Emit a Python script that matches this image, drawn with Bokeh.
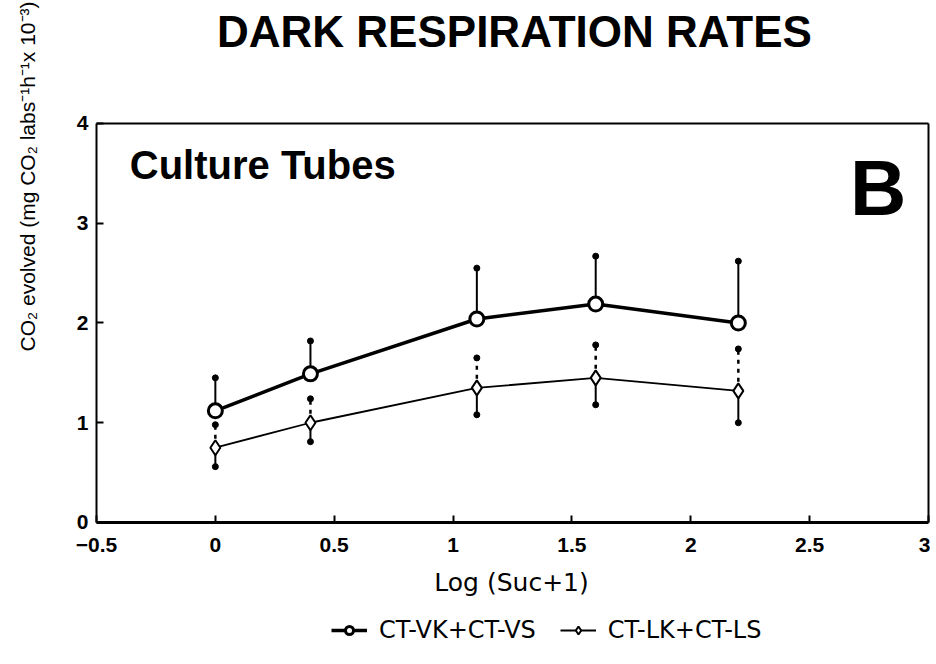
from bokeh.plotting import figure
from bokeh.models import Label, Legend, LegendItem, FixedTicker, Range1d, LinearAxis
from bokeh.embed import file_html
from bokeh.resources import INLINE
import math

# ---- data ----
x_vals = [0.0, 0.4, 1.1, 1.6, 2.2]
vk_mean = [1.12, 1.49, 2.04, 2.19, 2.00]
vk_upper = [1.45, 1.82, 2.55, 2.67, 2.62]
lk_mean = [0.75, 1.00, 1.35, 1.45, 1.32]
lk_lower = [0.56, 0.81, 1.08, 1.18, 1.00]
lk_upper = [0.98, 1.24, 1.65, 1.78, 1.74]
x_ticks = [-0.5, 0, 0.5, 1, 1.5, 2, 2.5, 3]
y_ticks = [0, 1, 2, 3, 4]
series_names = ["CT-VK+CT-VS", "CT-LK+CT-LS"]

FONT = "Liberation Sans"
X0, X1 = -0.5, 3.0
Y0, Y1 = 0.0, 4.0

# the frame covers the whole canvas; axes are drawn at fixed data locations
p = figure(width=930, height=656, output_backend="svg", toolbar_location=None,
           x_range=Range1d(-0.90385, 3.00841), y_range=Range1d(-1.34336, 5.23308),
           min_border=0)
p.xgrid.visible = False
p.ygrid.visible = False
p.outline_line_color = None
p.background_fill_color = "white"
p.border_fill_color = "white"

xa = p.xaxis[0]
ya = p.yaxis[0]
xa.fixed_location = Y0
ya.fixed_location = X0
xa.bounds = (X0, X1)
ya.bounds = (Y0, Y1)
for ax in (xa, ya):
    ax.major_tick_in = 7
    ax.major_tick_out = 0
    ax.minor_tick_line_color = None
    ax.major_tick_line_width = 2
    ax.major_label_text_font = FONT
    ax.major_label_text_font_style = "bold"
    ax.major_label_text_font_size = "21px"
    ax.major_label_text_color = "black"
    ax.axis_line_color = "black"
xa.ticker = FixedTicker(ticks=x_ticks)
ya.ticker = FixedTicker(ticks=y_ticks)
xa.axis_line_width = 3
ya.axis_line_width = 2
xa.major_label_standoff = 16
ya.major_label_standoff = 8

# box: top and right lines as tickless axes
top = LinearAxis(fixed_location=Y1, bounds=(X0, X1), ticker=FixedTicker(ticks=[]),
                 axis_line_width=2, axis_line_color="black", minor_tick_line_color=None)
right = LinearAxis(fixed_location=X1, bounds=(Y0, Y1), ticker=FixedTicker(ticks=[]),
                   axis_line_width=2, axis_line_color="black", minor_tick_line_color=None)
p.add_layout(top, "above")
p.add_layout(right, "right")

# error bars: VK upper (solid)
p.segment(x0=x_vals, y0=vk_mean, x1=x_vals, y1=vk_upper, line_color="black", line_width=2)
p.scatter(x=x_vals, y=vk_upper, size=6, color="black")
# LK lower (solid)
p.segment(x0=x_vals, y0=lk_mean, x1=x_vals, y1=lk_lower, line_color="black", line_width=2)
p.scatter(x=x_vals, y=lk_lower, size=6, color="black")
# LK upper (dashed)
p.segment(x0=x_vals, y0=lk_mean, x1=x_vals, y1=lk_upper, line_color="black", line_width=2.5,
          line_dash="4 5")
p.scatter(x=x_vals, y=lk_upper, size=6, color="black")

# lines + markers
l1 = p.line(x_vals, vk_mean, line_color="black", line_width=3.5)
m1 = p.scatter(x_vals, vk_mean, marker="circle", size=14, fill_color="white",
               line_color="black", line_width=3)
l2 = p.line(x_vals, lk_mean, line_color="black", line_width=1.8)
m2 = p.scatter(x_vals, lk_mean, marker="diamond", size=15, fill_color="white",
               line_color="black", line_width=2)

legend = Legend(items=[LegendItem(label=series_names[0], renderers=[l1, m1]),
                       LegendItem(label=series_names[1], renderers=[l2, m2])],
                orientation="horizontal", location=(331, 12), margin=0,
                border_line_color=None, background_fill_alpha=0,
                label_text_font="DejaVu Sans", label_text_font_size="24px",
                label_text_color="black",
                glyph_width=36, spacing=24, label_standoff=12, padding=4)
p.add_layout(legend, "center")

# texts
p.add_layout(Label(x=1.258, y=4.922, text="DARK RESPIRATION RATES", text_font=FONT,
                   text_font_style="bold", text_font_size="44px", text_align="center",
                   text_baseline="middle", text_color="black"))
p.add_layout(Label(x=-0.36, y=3.58, text="Culture Tubes", text_font=FONT,
                   text_font_style="bold", text_font_size="40px", text_align="left",
                   text_baseline="alphabetic", text_color="black"))
p.add_layout(Label(x=2.67, y=3.35, text="B", text_font=FONT,
                   text_font_style="bold", text_font_size="78px", text_align="left",
                   text_baseline="alphabetic", text_color="black"))
p.add_layout(Label(x=1.246, y=-0.60, text="Log (Suc+1)", text_font="DejaVu Sans",
                   text_font_size="25px", text_align="center", text_baseline="middle",
                   text_color="black"))
p.add_layout(Label(x=-0.7903, y=3.4687, text="CO₂ evolved (mg CO₂ labs⁻¹h⁻¹x 10⁻³)",
                   text_font=FONT, text_font_size="21px", text_align="center",
                   text_baseline="middle", angle=math.pi / 2, text_color="black"))

open("out.html", "w").write(file_html(p, INLINE))
